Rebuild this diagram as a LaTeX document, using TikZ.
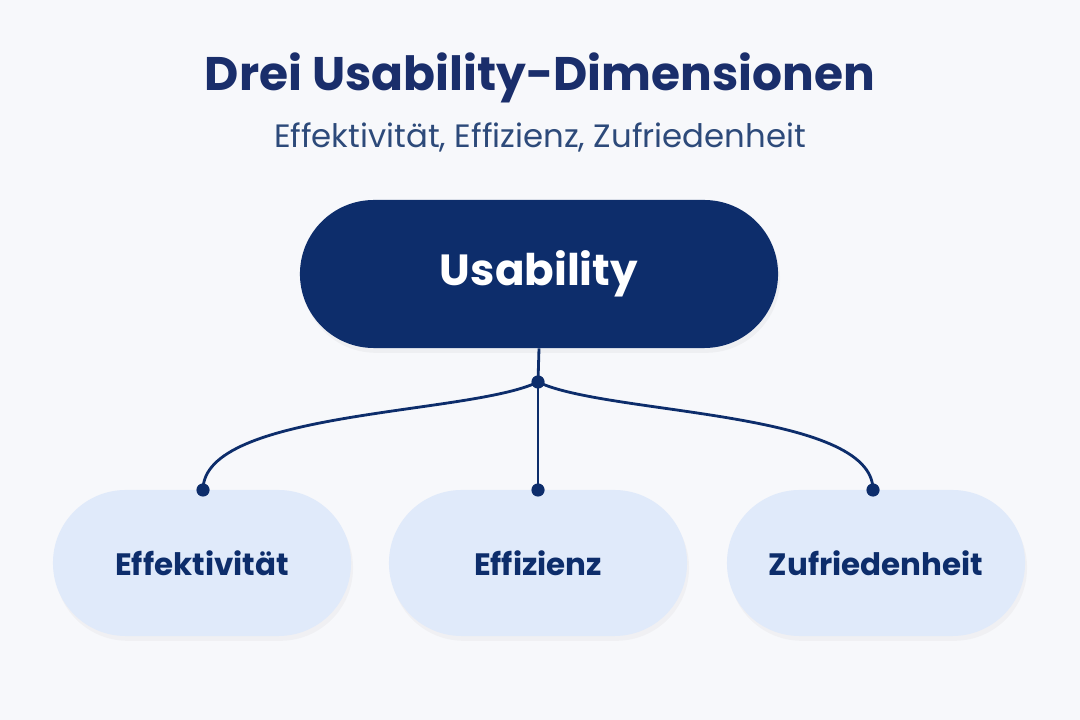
\documentclass[tikz,border=0pt]{standalone}
\usepackage{fontspec}
\setmainfont{Poppins}
\usetikzlibrary{shadows}
\definecolor{navy}{HTML}{0D2D6B}
\definecolor{titleblue}{HTML}{1A2E6B}
\definecolor{subblue}{HTML}{2D4A7A}
\definecolor{paleblue}{HTML}{E0EAFA}
\definecolor{bgcol}{HTML}{F7F8FB}
\tikzset{
  rootbox/.style={fill=navy, text=white, font=\bfseries\fontsize{31}{36}\selectfont,
    rounded corners=1.85cm, minimum width=11.95cm, minimum height=3.7cm,
    drop shadow={opacity=0.07, shadow yshift=-0.12cm, shadow xshift=0.05cm}},
  leafbox/.style={fill=paleblue, text=navy, font=\bfseries\fontsize{22}{26}\selectfont,
    rounded corners=1.82cm, minimum width=7.45cm, minimum height=3.65cm,
    drop shadow={opacity=0.06, shadow yshift=-0.12cm, shadow xshift=0.05cm}},
  link/.style={navy, line width=2pt},
  dot/.style={circle, fill=navy, inner sep=0pt, minimum size=0.33cm}
}
\begin{document}
\begin{tikzpicture}[x=0.025cm, y=-0.025cm]
\fill[bgcol] (0,0) rectangle (1080,720);
\useasboundingbox (0,0) rectangle (1080,720);

% titles
\node[text=titleblue, font=\bfseries\fontsize{33.5}{40}\selectfont] (title) at (540,78) {Drei Usability-Dimensionen};
\node[text=subblue, font=\fontsize{23}{28}\selectfont] (subtitle) at (540,137) {Effektivität, Effizienz, Zufriedenheit};

% boxes
\node[rootbox] (usab) at (539,274) {Usability};
\node[leafbox] (eff) at (202,563) {Effektivität};
\node[leafbox] (effz) at (538,563) {Effizienz};
\node[leafbox] (zuf) at (876,563) {Zufriedenheit};

% connectors
\node[dot] (hub) at (538,382) {};
\node[dot] (d1) at (203,490) {};
\node[dot] (d2) at (538,490) {};
\node[dot] (d3) at (873,490) {};
\draw[link] (usab.south) -- (hub.center);
\draw[link] (hub.center) .. controls (470,415) and (203,410) .. (d1.center);
\draw[link] (hub.center) -- (d2.center);
\draw[link] (hub.center) .. controls (606,415) and (873,410) .. (d3.center);
\end{tikzpicture}
\end{document}
